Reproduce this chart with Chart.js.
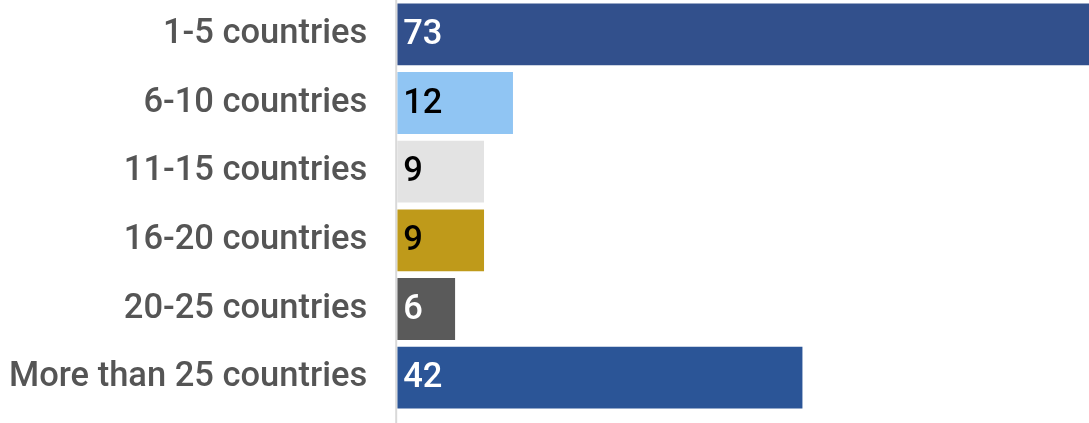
<!DOCTYPE html>
<html>
<head>
<meta charset="utf-8">
<script src="https://cdn.jsdelivr.net/npm/chart.js@4"></script>
<style>
  html, body { margin: 0; padding: 0; background: #fff; }
  #wrap { width: 1089px; height: 423px; }
</style>
</head>
<body>
<div id="wrap"><canvas id="chart"></canvas></div>
<script>
const categories = ["1-5 countries", "6-10 countries", "11-15 countries", "16-20 countries", "20-25 countries", "More than 25 countries"];
const counts = [73, 12, 9, 9, 6, 42];
const barColors = ["#32508c", "#90c5f3", "#e3e3e3", "#bf9a1a", "#5a5a5a", "#2b5597"];
const labelColors = ["#ffffff", "#000000", "#000000", "#000000", "#ffffff", "#ffffff"];

// value labels drawn inside each bar, near its base
const valueLabels = {
  id: "valueLabels",
  afterDatasetsDraw(chart) {
    const ctx = chart.ctx;
    const meta = chart.getDatasetMeta(0);
    ctx.save();
    ctx.font = "500 34.5px Roboto";
    ctx.textBaseline = "middle";
    ctx.textAlign = "left";
    meta.data.forEach((bar, i) => {
      ctx.fillStyle = labelColors[i];
      ctx.fillText(String(counts[i]), bar.base + 6, bar.y + 1);
    });
    ctx.restore();
  }
};

// vertical axis line running the full canvas height
const axisLine = {
  id: "axisLine",
  afterDraw(chart) {
    const ctx = chart.ctx;
    const x = chart.scales.x.getPixelForValue(0) - 1;
    ctx.save();
    ctx.strokeStyle = "#d9d9d9";
    ctx.lineWidth = 2;
    ctx.beginPath();
    ctx.moveTo(x, 0);
    ctx.lineTo(x, chart.height);
    ctx.stroke();
    ctx.restore();
  }
};

new Chart(document.getElementById("chart"), {
  type: "bar",
  data: {
    labels: categories,
    datasets: [{
      data: counts,
      backgroundColor: barColors,
      borderWidth: 0,
      barPercentage: 0.9,
      categoryPercentage: 1
    }]
  },
  options: {
    indexAxis: "y",
    responsive: true,
    maintainAspectRatio: false,
    animation: false,
    layout: { padding: { top: -1, bottom: 11, left: 8, right: 0 } },
    plugins: { legend: { display: false }, tooltip: { enabled: false } },
    scales: {
      x: {
        min: 0,
        max: 71.7,
        display: false,
        grid: { display: false }
      },
      y: {
        grid: { display: false, drawTicks: false },
        border: { display: false },
        afterFit(scale) {
          scale.paddingTop = 0;
          scale.paddingBottom = 0;
          scale.width -= 29;
        },
        ticks: {
          color: "#555555",
          padding: 30,
          font: { family: "Roboto", size: 34.5, weight: "500" }
        }
      }
    }
  },
  plugins: [valueLabels, axisLine]
});
</script>
</body>
</html>
